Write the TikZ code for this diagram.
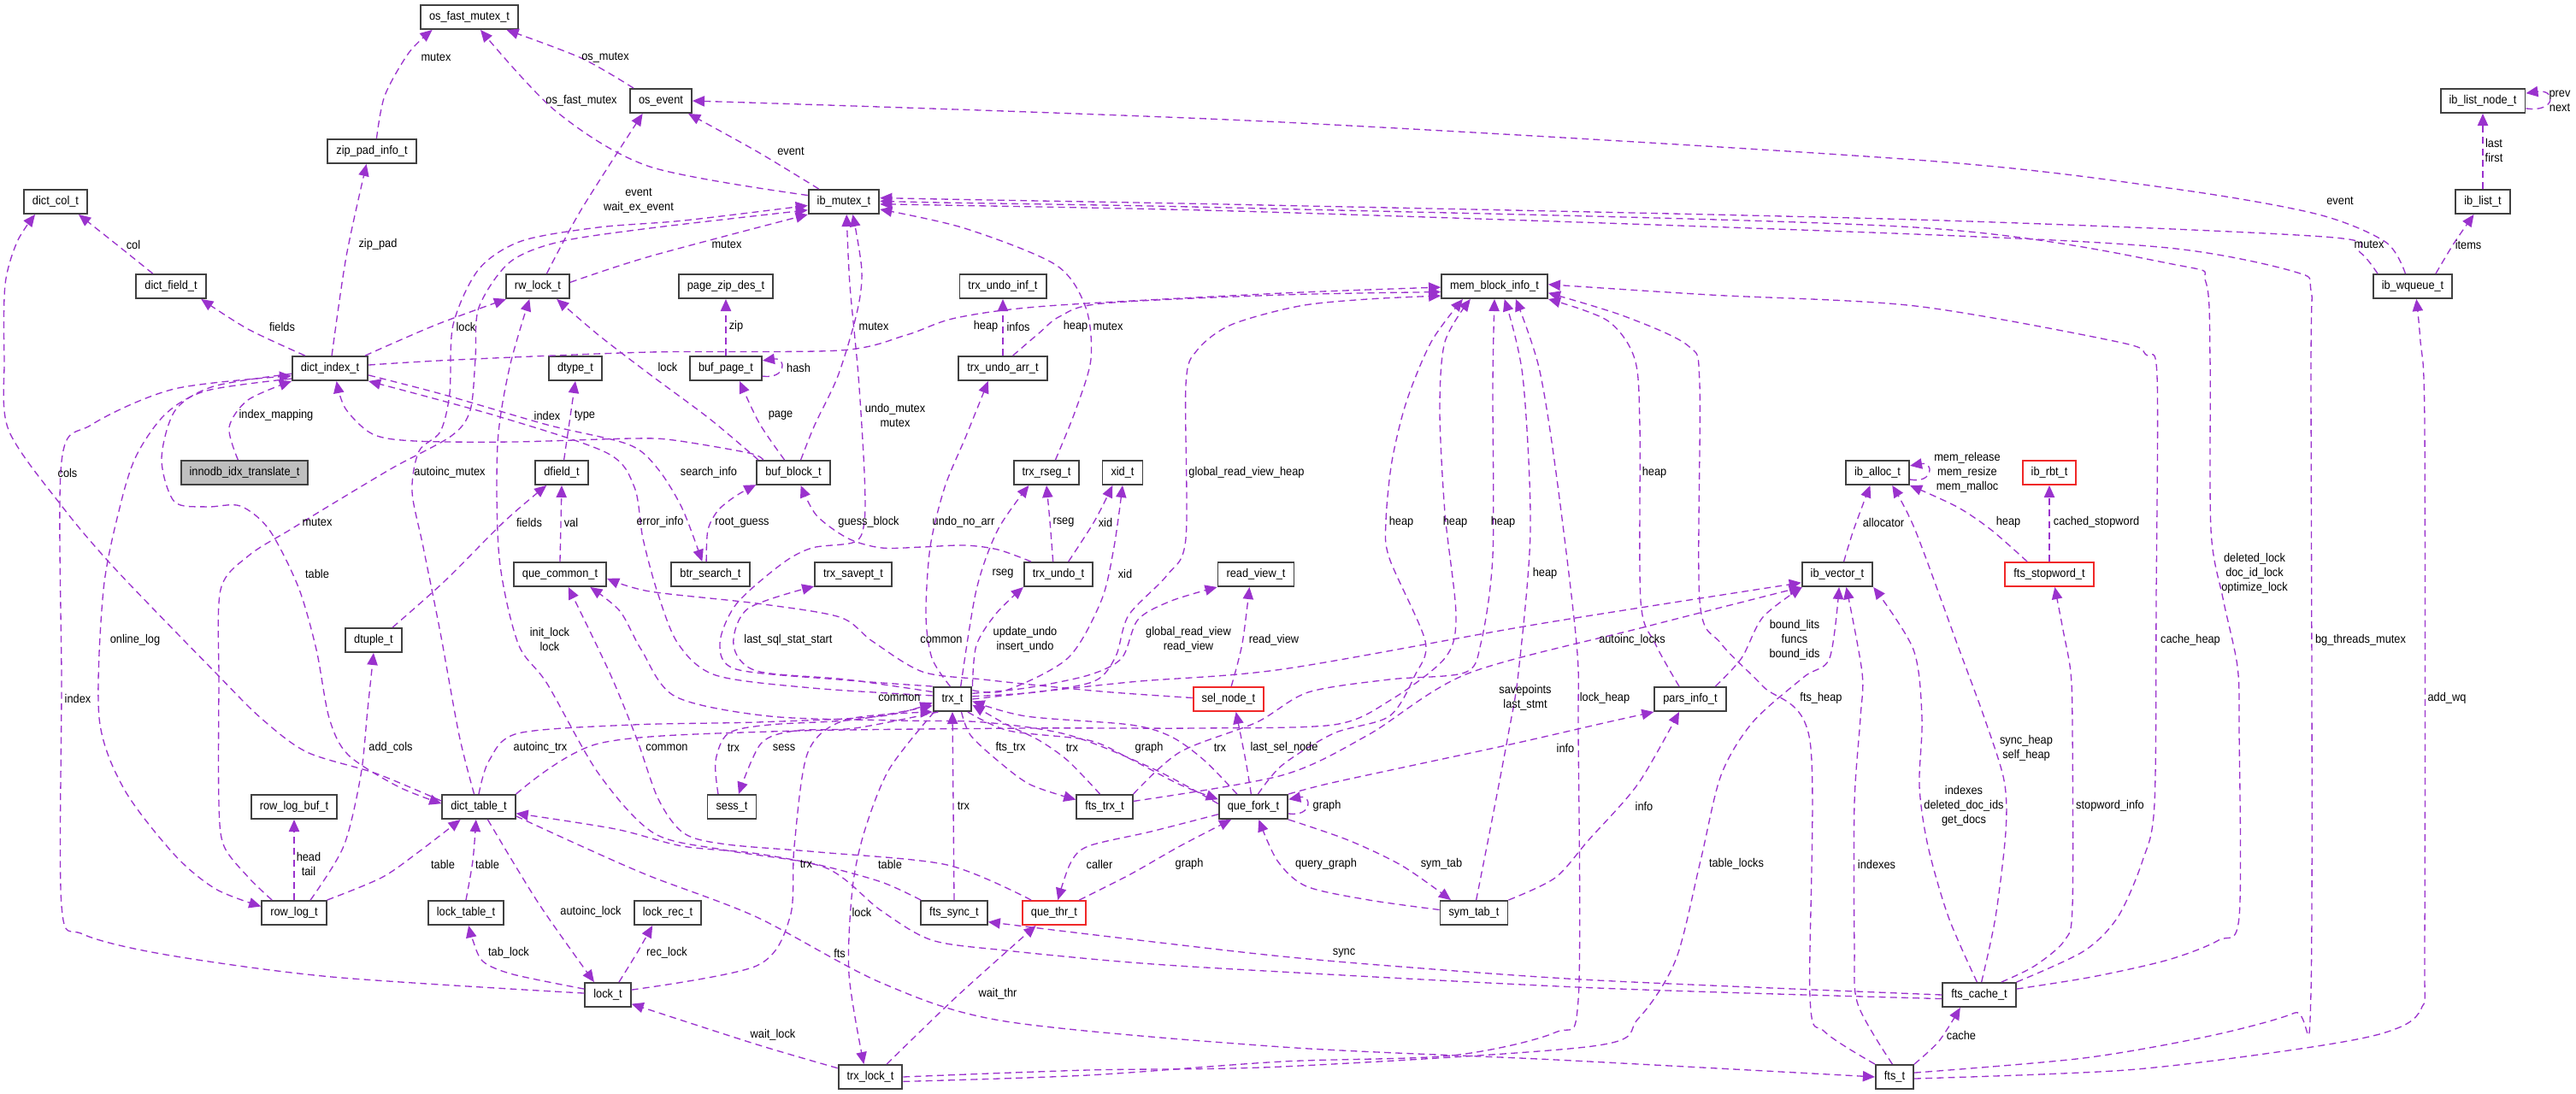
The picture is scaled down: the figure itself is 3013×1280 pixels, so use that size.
\documentclass[tikz,border=0pt]{standalone}
\usepackage{fontspec}
\setmainfont{Liberation Sans}[FakeStretch=0.91]
\usetikzlibrary{arrows.meta}
\definecolor{memc}{RGB}{154,50,205}
\definecolor{boxc}{RGB}{64,64,64}
\definecolor{redc}{RGB}{240,40,40}
\tikzset{
  cls/.style={draw=boxc,line width=1.1pt,fill=white,minimum height=0.56cm,inner xsep=0.2cm,inner ysep=0pt,font=\fontsize{8}{9.7}\selectfont},
  clsred/.style={cls,draw=redc},
  clsroot/.style={cls,fill=black!25},
  memb/.style={draw=memc,line width=0.75pt,dash pattern=on 4.5pt off 3pt,-{Triangle[length=8pt,width=7pt]}},
  lbl/.style={font=\fontsize{8}{9.7}\selectfont,align=center,inner sep=0pt}
}

\begin{document}
\begin{tikzpicture}[x=0.02cm,y=-0.02cm]
    \fill[white] (0,0) rectangle (3013,1280);
    \useasboundingbox (0,0) rectangle (3013,1280);
    \node[cls] (ofm) at (549,20) {os\_fast\_mutex\_t};
    \node[cls] (zpi) at (435,177) {zip\_pad\_info\_t};
    \node[cls] (ose) at (773,118) {os\_event};
    \node[cls] (dcol) at (65,236) {dict\_col\_t};
    \node[cls] (ibm) at (987,236) {ib\_mutex\_t};
    \node[cls] (dfld) at (200,335) {dict\_field\_t};
    \node[cls] (rwl) at (629,335) {rw\_lock\_t};
    \node[cls] (pzd) at (849,335) {page\_zip\_des\_t};
    \node[cls] (tui) at (1173,335) {trx\_undo\_inf\_t};
    \node[cls] (mbi) at (1748,335) {mem\_block\_info\_t};
    \node[cls] (lnd) at (2904,118) {ib\_list\_node\_t};
    \node[cls] (ibl) at (2904,236) {ib\_list\_t};
    \node[cls] (wq) at (2822,335) {ib\_wqueue\_t};
    \node[cls] (didx) at (386,431) {dict\_index\_t};
    \node[cls] (dtyp) at (673,431) {dtype\_t};
    \node[cls] (bpg) at (849,431) {buf\_page\_t};
    \node[cls] (tua) at (1173,431) {trx\_undo\_arr\_t};
    \node[clsroot] (iit) at (286,553) {innodb\_idx\_translate\_t};
    \node[cls] (dfd) at (657,553) {dfield\_t};
    \node[cls] (bblk) at (928,553) {buf\_block\_t};
    \node[cls] (rseg) at (1224,553) {trx\_rseg\_t};
    \node[cls] (xid) at (1313,553) {xid\_t};
    \node[cls] (ialloc) at (2196,553) {ib\_alloc\_t};
    \node[clsred] (rbt) at (2397,553) {ib\_rbt\_t};
    \node[cls] (qcom) at (655,672) {que\_common\_t};
    \node[cls] (btr) at (831,672) {btr\_search\_t};
    \node[cls] (svpt) at (998,672) {trx\_savept\_t};
    \node[cls] (tundo) at (1238,672) {trx\_undo\_t};
    \node[cls] (rview) at (1469,672) {read\_view\_t};
    \node[cls] (ivec) at (2149,672) {ib\_vector\_t};
    \node[clsred] (stopw) at (2397,672) {fts\_stopword\_t};
    \node[cls] (dtpl) at (437,749) {dtuple\_t};
    \node[cls] (trx) at (1114,818) {trx\_t};
    \node[clsred] (sel) at (1437,818) {sel\_node\_t};
    \node[cls] (pars) at (1977,818) {pars\_info\_t};
    \node[cls] (rlb) at (344,944) {row\_log\_buf\_t};
    \node[cls] (dtab) at (560,944) {dict\_table\_t};
    \node[cls] (sess) at (856,944) {sess\_t};
    \node[cls] (ftrx) at (1292,944) {fts\_trx\_t};
    \node[cls] (qfork) at (1466,944) {que\_fork\_t};
    \node[cls] (rlog) at (344,1068) {row\_log\_t};
    \node[cls] (ltab) at (545,1068) {lock\_table\_t};
    \node[cls] (lrec) at (781,1068) {lock\_rec\_t};
    \node[cls] (fsync) at (1116,1068) {fts\_sync\_t};
    \node[clsred] (qthr) at (1233,1068) {que\_thr\_t};
    \node[cls] (sym) at (1724,1068) {sym\_tab\_t};
    \node[cls] (lock) at (711,1164) {lock\_t};
    \node[cls] (fcache) at (2315,1164) {fts\_cache\_t};
    \node[cls] (tlock) at (1018,1260) {trx\_lock\_t};
    \node[cls] (fts) at (2216,1260) {fts\_t};

    \draw[memb] plot[smooth] coordinates {(zpi.70) (450,112) (478,62) (ofm.199)};
    \draw[memb] plot[smooth] coordinates {(ose.155) (680,68) (ofm.341)};
    \draw[memb] plot[smooth] coordinates {(ibm.170) (760,195) (650,130) (ofm.311)};
    \draw[memb] plot[smooth] coordinates {(ibm.153) (885,177) (ose.335)};
    \draw[memb] plot[smooth] coordinates {(rwl.55) (680,245) (ose.215)};
    \draw[memb] plot[smooth] coordinates {(rwl.7) (760,300) (ibm.south west)};
    \draw[memb] plot[smooth] coordinates {(wq.120) (2790,283) (2708,250) (2536,220) (2240,187) (1480,142) (ose.east)};
    \draw[memb] plot[smooth] coordinates {(wq.160) (2760,295) (2718,277) (2240,257) (1480,240) (1100,233) (ibm.6)};
    \draw[memb] plot[smooth] coordinates {(wq.29) (2870,285) (ibl.235)};
    \draw[memb] (ibl.north) -- (lnd.south);
    \draw[memb] (lnd.350) .. controls (2990,132) and (2990,104) .. (lnd.10);

    \draw[memb] plot[smooth] coordinates {(dfld.145) (135,285) (dcol.331)};
    \draw[memb] plot[smooth] coordinates {(didx.153) (290,385) (dfld.337)};
    \draw[memb] plot[smooth] coordinates {(didx.82) (405,300) (zpi.247)};
    \draw[memb] plot[smooth] coordinates {(didx.20) (510,380) (rwl.202)};
    \draw[memb] plot[smooth] coordinates {(dtab.171) (440,905) (359,880) (305,840) (252,787) (136,667) (73,593) (10,503) (5,420) (6,333) (20,283) (dcol.212)};
    \draw[memb] plot[smooth] coordinates {(lock.176) (388,1143) (194,1117) (97,1093) (72,1060) (72,800) (72,540) (107,497) (204,455) (didx.191)};
    \draw[memb] plot[smooth] coordinates {(didx.195) (242,457) (194,484) (160,532) (141,590) (121,690) (116,840) (145,923) (204,1000) (252,1040) (rlog.169)};
    \draw[memb] plot[smooth] coordinates {(iit.117) (268,500) (290,468) (didx.south west)};
    \draw[memb] plot[smooth] coordinates {(didx.188) (250,452) (205,480) (189,537) (204,587) (242,593) (281,592) (315,620) (349,687) (370,760) (385,840) (407,883) (465,920) (dtab.175)};
    \draw[memb] plot[smooth] coordinates {(rlog.150) (291,1027) (262,990) (256,940) (256,800) (258,690) (291,650) (339,620) (388,590) (460,547) (528,510) (550,480) (556,420) (560,360) (596,307) (654,283) (760,267) (ibm.193)};
    \draw[memb] plot[smooth] coordinates {(dtab.110) (537,860) (515,740) (495,640) (482,575) (490,528) (515,505) (526,460) (530,380) (560,315) (610,282) (700,266) (800,258) (ibm.186)};

    \draw[memb] plot[smooth] coordinates {(bblk.157) (876,530) (788,515) (740,513) (600,517) (485,516) (436,508) (404,478) (didx.297)};
    \draw[memb] plot[smooth] coordinates {(bblk.160) (830,490) (760,438) (700,392) (rwl.326)};
    \draw[memb] plot[smooth] coordinates {(bblk.125) (888,495) (bpg.317)};
    \draw[memb] (bpg.north) -- (pzd.south);
    \draw[memb] (bpg.348) .. controls (920,444) and (920,418) .. (bpg.12);
    \draw[memb] plot[smooth] coordinates {(bblk.60) (953,497) (980,440) (1002,367) (1008,317) (ibm.305)};
    \draw[memb] plot[smooth] coordinates {(trx.north west) (980,795) (861,783) (842,753) (861,707) (914,660) (950,641) (1000,634) (1011,610) (1011,553) (1004,440) (994,333) (ibm.282)};
    \draw[memb] plot[smooth] coordinates {(rseg.55) (1258,480) (1276,420) (1270,360) (1235,310) (1128,267) (ibm.348)};
    \draw[memb] (tua.north) -- (tui.south);
    \draw[memb] plot[smooth] coordinates {(tua.52) (1215,390) (1240,370) (1290,355) (1500,345) (mbi.186)};
    \draw[memb] plot[smooth] coordinates {(didx.5) (533,421) (760,412) (982,410) (1060,392) (1118,372) (1225,358) (1500,343) (mbi.181)};
    \draw[memb] plot[smooth] coordinates {(trx.8) (1210,810) (1280,797) (1305,768) (1320,720) (1365,673) (1387,630) (1387,450) (1400,410) (1440,380) (1520,358) (1600,350) (mbi.190)};
    \draw[memb] plot[smooth] coordinates {(trx.100) (1090,770) (1083,720) (1088,640) (1105,570) (1130,510) (tua.221)};
    \draw[memb] plot[smooth] coordinates {(tundo.113) (1228,610) (rseg.south)};
    \draw[memb] plot[smooth] coordinates {(tundo.52) (1280,610) (xid.232)};
    \draw[memb] plot[smooth] coordinates {(trx.57) (1142,690) (1167,620) (rseg.216)};
    \draw[memb] plot[smooth] coordinates {(trx.24) (1176,808) (1249,770) (1288,703) (1303,640) (xid.south)};
    \draw[memb] plot[smooth] coordinates {(trx.north east) (1142,755) (1165,718) (tundo.200)};
    \draw[memb] plot[smooth] coordinates {(trx.160) (990,795) (885,785) (858,755) (875,712) (svpt.197)};
    \draw[memb] plot[smooth] coordinates {(trx.170) (950,805) (837,790) (793,753) (769,693) (752,630) (742,570) (710,530) (582,487) (didx.south east)};
    \draw[memb] plot[smooth] coordinates {(didx.350) (520,462) (640,497) (735,520) (769,548) (798,595) (btr.123)};
    \draw[memb] plot[smooth] coordinates {(btr.108) (828,620) (840,597) (861,580) (bblk.198)};
    \draw[memb] plot[smooth] coordinates {(tundo.155) (1167,643) (1128,638) (1079,640) (1031,641) (992,630) (955,603) (bblk.300)};

    \draw[memb] (dfd.80) -- (dtyp.south);
    \draw[memb] (qcom.north) -- (dfd.south);
    \draw[memb] plot[smooth] coordinates {(dtpl.34) (520,680) (590,610) (dfd.220)};
    \draw[memb] plot[smooth] coordinates {(rlog.38) (402,990) (422,907) (430,830) (dtpl.south)};
    \draw[memb] (rlog.north) -- (rlb.south);
    \draw[memb] plot[smooth] coordinates {(rlog.north east) (446,1027) (488,998) (dtab.215)};
    \draw[memb] plot[smooth] coordinates {(ltab.north) (553,1007) (dtab.258)};
    \draw[memb] plot[smooth] coordinates {(lock.166) (600,1140) (565,1125) (553,1100) (ltab.282)};
    \draw[memb] plot[smooth] coordinates {(lock.49) (745,1115) (lrec.220)};
    \draw[memb] plot[smooth] coordinates {(dtab.305) (630,1057) (lock.137)};
    \draw[memb] plot[smooth] coordinates {(dtab.north) (572,890) (606,858) (740,848) (885,845) (1030,838) (trx.190)};
    \draw[memb] plot[smooth] coordinates {(lock.12) (885,1130) (924,1073) (929,990) (945,880) (990,842) (trx.south west)};
    \draw[memb] plot[smooth] coordinates {(trx.215) (1040,900) (1011,973) (997,1040) (993,1140) (tlock.117)};
    \draw[memb] plot[smooth] coordinates {(tlock.165) (885,1222) (lock.339)};
    \draw[memb] plot[smooth] coordinates {(tlock.38) (1120,1165) (qthr.215)};
    \draw[memb] plot[smooth] coordinates {(dtab.346) (680,990) (760,1025) (885,1073) (1031,1150) (1176,1195) (1500,1225) (1820,1240) (fts.west)};
    \draw[memb] plot[smooth] coordinates {(sess.137) (837,890) (852,858) (900,848) (1000,842) (trx.198)};
    \draw[memb] plot[smooth] coordinates {(trx.222) (1000,852) (930,855) (890,870) (sess.62)};
    \draw[memb] plot[smooth] coordinates {(ftrx.110) (1249,890) (1215,866) (1176,847) (trx.344)};
    \draw[memb] plot[smooth] coordinates {(trx.305) (1135,860) (1167,890) (1205,918) (ftrx.166)};
    \draw[memb] (fsync.north) -- (trx.south);
    \draw[memb] plot[smooth] coordinates {(fsync.159) (1031,1032) (958,1012) (880,998) (798,990) (720,970) (dtab.350)};
    \draw[memb] plot[smooth] coordinates {(qthr.151) (1108,1012) (958,997) (850,988) (800,975) (770,935) (745,865) (713,787) (qcom.303)};
    \draw[memb] plot[smooth] coordinates {(sel.178) (1300,810) (1225,803) (1150,795) (1079,786) (1020,750) (982,722) (885,706) (760,692) (qcom.355)};
    \draw[memb] plot[smooth] coordinates {(qfork.175) (1350,900) (1250,860) (1150,845) (1050,843) (900,838) (790,815) (750,760) (725,715) (qcom.337)};

    \draw[memb] plot[smooth] coordinates {(qfork.142) (1409,890) (1370,862) (1322,848) (1200,838) (trx.354)};
    \draw[memb] plot[smooth] coordinates {(trx.320) (1180,855) (1273,866) (1322,888) (1380,918) (qfork.168)};
    \draw[memb] plot[smooth] coordinates {(qfork.100) (1457,890) (sel.300)};
    \draw[memb] (qfork.349) .. controls (1535,956) and (1535,930) .. (qfork.12);
    \draw[memb] plot[smooth] coordinates {(qfork.south east) (1577,983) (1640,1013) (sym.151)};
    \draw[memb] plot[smooth] coordinates {(sym.175) (1601,1053) (1528,1037) (1494,1007) (qfork.293)};
    \draw[memb] plot[smooth] coordinates {(qfork.192) (1346,973) (1273,990) (1252,1010) (qthr.74)};
    \draw[memb] plot[smooth] coordinates {(qthr.27) (1322,1023) (1380,990) (qfork.210)};
    \draw[memb] plot[smooth] coordinates {(qfork.north east) (1553,917) (1650,896) (1771,870) (1880,845) (pars.south west)};
    \draw[memb] plot[smooth] coordinates {(sym.north east) (1819,1027) (1858,983) (1916,917) (pars.229)};
    \draw[memb] plot[smooth] coordinates {(pars.27) (2037,770) (2062,722) (ivec.200)};
    \draw[memb] plot[smooth] coordinates {(trx.0) (1322,798) (1500,783) (1800,730) (ivec.193)};
    \draw[memb] plot[smooth] coordinates {(ftrx.11) (1500,907) (1600,860) (1717,788) (1926,733) (ivec.south west)};
    \draw[memb] plot[smooth] coordinates {(tlock.east) (1273,1252) (1500,1248) (1863,1224) (1916,1192) (1960,1123) (1989,1007) (2013,907) (2050,845) (2110,792) (2140,770) (ivec.278)};
    \draw[memb] plot[smooth] coordinates {(tlock.352) (1273,1258) (1500,1242) (1698,1235) (1819,1208) (1846,1170) (1846,853) (1844,753) (1820,553) (1800,430) (mbi.329)};
    \draw[memb] plot[smooth] coordinates {(dtab.north east) (700,870) (900,856) (1200,852) (1400,852) (1560,848) (1625,820) (1690,770) (1703,720) (1690,600) (1684,480) (1690,400) (mbi.208)};
    \draw[memb] plot[smooth] coordinates {(qfork.70) (1500,895) (1560,858) (1625,838) (1655,790) (1667,750) (1625,653) (1621,610) (1628,540) (1645,470) (1674,400) (mbi.202)};
    \draw[memb] plot[smooth] coordinates {(ftrx.north east) (1380,880) (1470,845) (1530,810) (1625,795) (1713,787) (1732,753) (1746,650) (1746,450) (mbi.south)};
    \draw[memb] plot[smooth] coordinates {(sym.80) (1745,960) (1764,860) (1776,787) (1790,620) (1781,440) (mbi.308)};
    \draw[memb] plot[smooth] coordinates {(pars.131) (1936,753) (1919,703) (1918,500) (1912,420) (1880,375) (mbi.south east)};
    \draw[memb] plot[smooth] coordinates {(fts.north west) (2134,1207) (2117,1167) (2117,867) (2062,803) (2013,753) (1988,703) (1988,450) (1975,405) (1900,370) (mbi.353)};
    \draw[memb] plot[smooth] coordinates {(fcache.north east) (2437,1113) (2477,1073) (2506,1007) (2520,940) (2522,700) (2523,440) (2510,415) (2477,400) (2240,358) (2000,345) (mbi.2)};
    \draw[memb] plot[smooth] coordinates {(fcache.30) (2380,1130) (2415,1100) (2424,1060) (2424,853) (2422,787) (2413,737) (stopw.293)};
    \draw[memb] plot[smooth] coordinates {(fcache.80) (2334,1073) (2346,973) (2344,913) (2321,840) (2289,753) (2240,620) (ialloc.319)};
    \draw[memb] plot[smooth] coordinates {(fcache.100) (2279,1073) (2255,990) (2245,920) (2248,840) (2238,760) (ivec.south east)};
    \draw[memb] plot[smooth] coordinates {(fts.north east) (2268,1218) (fcache.214)};
    \draw[memb] plot[smooth] coordinates {(fts.100) (2173,1175) (2169,1107) (2169,940) (2176,840) (2178,787) (ivec.305)};
    \draw[memb] (stopw.north) -- (rbt.south);
    \draw[memb] plot[smooth] coordinates {(stopw.150) (2329,620) (2289,593) (ialloc.south east)};
    \draw[memb] plot[smooth] coordinates {(ivec.63) (2168,620) (ialloc.240)};
    \draw[memb] (ialloc.348) .. controls (2262,566) and (2262,540) .. (ialloc.12);
    \draw[memb] plot[smooth] coordinates {(fcache.west) (1868,1147) (1625,1130) (1480,1117) (1273,1093) (fsync.345)};
    \draw[memb] plot[smooth] coordinates {(fcache.186) (1868,1156) (1480,1136) (1322,1126) (1176,1112) (1090,1100) (1030,1065) (965,1015) (850,995) (765,975) (700,905) (640,800) (606,753) (584,653) (582,520) (596,430) (rwl.237)};
    \draw[memb] plot[smooth] coordinates {(fts.355) (2487,1252) (2684,1228) (2790,1208) (2832,1180) (2836,1100) (2836,500) (2831,400) (wq.286)};
    \draw[memb] plot[smooth] coordinates {(fts.12) (2437,1238) (2585,1212) (2684,1185) (2703,1160) (2703,440) (2703,340) (2684,318) (2536,290) (2240,274) (1480,248) (1100,240) (ibm.356)};
    \draw[memb] plot[smooth] coordinates {(fcache.9) (2447,1143) (2536,1123) (2595,1100) (2619,1073) (2619,853) (2617,780) (2600,700) (2586,620) (2585,420) (2580,330) (2546,310) (2240,266) (1480,244) (1100,237) (ibm.1)};
    \draw[memb] plot[smooth] coordinates {(sel.78) (1453,753) (rview.243)};
    \draw[memb] plot[smooth] coordinates {(trx.16) (1200,805) (1273,790) (1312,770) (1331,725) (1370,703) (rview.south west)};

    \node[lbl] (l1) at (510,67) {mutex};
    \node[lbl] (l2) at (708,67) {os\_mutex};
    \node[lbl] (l3) at (680,118) {os\_fast\_mutex};
    \node[lbl] (l4) at (925,177) {event};
    \node[lbl] (l5) at (747,235) {event\\wait\_ex\_event};
    \node[lbl] (l6) at (850,286) {mutex};
    \node[lbl] (l7) at (2737,235) {event};
    \node[lbl] (l8) at (2771,286) {mutex};
    \node[lbl] (l9) at (2887,286) {items};
    \node[lbl] (l10) at (2917,176) {last\\first};
    \node[lbl] (l11) at (2994,118) {prev\\next};
    \node[lbl] (l12) at (156,286) {col};
    \node[lbl] (l13) at (330,382) {fields};
    \node[lbl] (l14) at (442,286) {zip\_pad};
    \node[lbl] (l15) at (545,382) {lock};
    \node[lbl] (l16) at (79,553) {cols};
    \node[lbl] (l17) at (91,817) {index};
    \node[lbl] (l18) at (158,749) {online\_log};
    \node[lbl] (l19) at (323,486) {index\_mapping};
    \node[lbl] (l20) at (371,671) {table};
    \node[lbl] (l21) at (371,611) {mutex};
    \node[lbl] (l22) at (526,553) {autoinc\_mutex};
    \node[lbl] (l23) at (640,486) {index};
    \node[lbl] (l24) at (781,429) {lock};
    \node[lbl] (l25) at (913,486) {page};
    \node[lbl] (l26) at (861,382) {zip};
    \node[lbl] (l27) at (934,430) {hash};
    \node[lbl] (l28) at (1022,382) {mutex};
    \node[lbl] (l29) at (1047,486) {undo\_mutex\\mutex};
    \node[lbl] (l30) at (1296,382) {mutex};
    \node[lbl] (l31) at (1191,382) {infos};
    \node[lbl] (l32) at (1258,382) {heap};
    \node[lbl] (l33) at (1153,382) {heap};
    \node[lbl] (l34) at (1458,553) {global\_read\_view\_heap};
    \node[lbl] (l35) at (1127,611) {undo\_no\_arr};
    \node[lbl] (l36) at (1244,611) {rseg};
    \node[lbl] (l37) at (1293,611) {xid};
    \node[lbl] (l38) at (1173,671) {rseg};
    \node[lbl] (l39) at (1316,671) {xid};
    \node[lbl] (l40) at (1199,748) {update\_undo\\insert\_undo};
    \node[lbl] (l41) at (922,749) {last\_sql\_stat\_start};
    \node[lbl] (l42) at (772,611) {error\_info};
    \node[lbl] (l43) at (829,553) {search\_info};
    \node[lbl] (l44) at (868,611) {root\_guess};
    \node[lbl] (l45) at (1016,611) {guess\_block};
    \node[lbl] (l46) at (684,486) {type};
    \node[lbl] (l47) at (668,611) {val};
    \node[lbl] (l48) at (619,611) {fields};
    \node[lbl] (l49) at (457,875) {add\_cols};
    \node[lbl] (l50) at (361,1011) {head\\tail};
    \node[lbl] (l51) at (518,1011) {table};
    \node[lbl] (l52) at (570,1011) {table};
    \node[lbl] (l53) at (595,1115) {tab\_lock};
    \node[lbl] (l54) at (780,1115) {rec\_lock};
    \node[lbl] (l55) at (691,1067) {autoinc\_lock};
    \node[lbl] (l56) at (632,875) {autoinc\_trx};
    \node[lbl] (l57) at (943,1011) {trx};
    \node[lbl] (l58) at (1008,1067) {lock};
    \node[lbl] (l59) at (904,1211) {wait\_lock};
    \node[lbl] (l60) at (1167,1163) {wait\_thr};
    \node[lbl] (l61) at (982,1115) {fts};
    \node[lbl] (l62) at (858,875) {trx};
    \node[lbl] (l63) at (917,875) {sess};
    \node[lbl] (l64) at (1254,875) {trx};
    \node[lbl] (l65) at (1182,875) {fts\_trx};
    \node[lbl] (l66) at (1127,943) {trx};
    \node[lbl] (l67) at (1041,1011) {table};
    \node[lbl] (l68) at (780,875) {common};
    \node[lbl] (l69) at (1101,749) {common};
    \node[lbl] (l70) at (1052,817) {common};
    \node[lbl] (l71) at (1427,875) {trx};
    \node[lbl] (l72) at (1344,875) {graph};
    \node[lbl] (l73) at (1502,875) {last\_sel\_node};
    \node[lbl] (l74) at (1552,943) {graph};
    \node[lbl] (l75) at (1686,1011) {sym\_tab};
    \node[lbl] (l76) at (1551,1011) {query\_graph};
    \node[lbl] (l77) at (1286,1011) {caller};
    \node[lbl] (l78) at (1391,1011) {graph};
    \node[lbl] (l79) at (1831,875) {info};
    \node[lbl] (l80) at (1923,943) {info};
    \node[lbl] (l81) at (2099,749) {bound\_lits\\funcs\\bound\_ids};
    \node[lbl] (l82) at (1909,749) {autoinc\_locks};
    \node[lbl] (l83) at (1784,816) {savepoints\\last\_stmt};
    \node[lbl] (l84) at (2031,1011) {table\_locks};
    \node[lbl] (l85) at (1877,817) {lock\_heap};
    \node[lbl] (l86) at (1702,611) {heap};
    \node[lbl] (l87) at (1639,611) {heap};
    \node[lbl] (l88) at (1758,611) {heap};
    \node[lbl] (l89) at (1807,671) {heap};
    \node[lbl] (l90) at (1935,553) {heap};
    \node[lbl] (l91) at (2130,817) {fts\_heap};
    \node[lbl] (l92) at (2562,749) {cache\_heap};
    \node[lbl] (l93) at (2468,943) {stopword\_info};
    \node[lbl] (l94) at (2370,875) {sync\_heap\\self\_heap};
    \node[lbl] (l95) at (2297,943) {indexes\\deleted\_doc\_ids\\get\_docs};
    \node[lbl] (l96) at (2294,1211) {cache};
    \node[lbl] (l97) at (2195,1011) {indexes};
    \node[lbl] (l98) at (2452,611) {cached\_stopword};
    \node[lbl] (l99) at (2349,611) {heap};
    \node[lbl] (l100) at (2203,611) {allocator};
    \node[lbl] (l101) at (2301,553) {mem\_release\\mem\_resize\\mem\_malloc};
    \node[lbl] (l102) at (1572,1115) {sync};
    \node[lbl] (l103) at (643,748) {init\_lock\\lock};
    \node[lbl] (l104) at (2637,671) {deleted\_lock\\doc\_id\_lock\\optimize\_lock};
    \node[lbl] (l105) at (2761,749) {bg\_threads\_mutex};
    \node[lbl] (l106) at (2862,817) {add\_wq};
    \node[lbl] (l107) at (1490,749) {read\_view};
    \node[lbl] (l108) at (1390,748) {global\_read\_view\\read\_view};
\end{tikzpicture}
\end{document}
